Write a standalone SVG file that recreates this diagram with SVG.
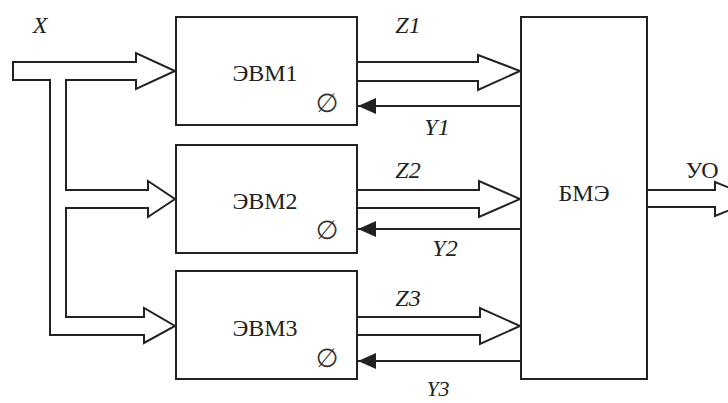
<svg xmlns="http://www.w3.org/2000/svg" width="728" height="403" viewBox="0 0 728 403">
<defs>
<style>
.box{fill:#fff;stroke:#222;stroke-width:2}
.pipe{fill:none;stroke:#222;stroke-width:2;stroke-linejoin:miter}
.sig{fill:none;stroke:#222;stroke-width:2}
.lbl{font-family:"Liberation Serif","Times New Roman",serif;font-size:24px;fill:#222;text-anchor:middle}
.it{font-style:italic}
.zero{font-family:"DejaVu Sans",sans-serif;font-size:26px;fill:#333;text-anchor:middle}
</style>
<marker id="fa" viewBox="0 0 18 16" refX="18" refY="8" markerWidth="18" markerHeight="16" markerUnits="userSpaceOnUse" orient="auto">
<path d="M0,0 L18,8 L0,16 Z" fill="#222"/>
</marker>
</defs>
<rect width="728" height="403" fill="#fff"/>
<g id="connectors">
<path class="pipe" d="M13,62 L136,62 L136,53 L175,71 L136,89 L136,80 L66,80 L66,190 L148,190 L148,181 L175,199 L148,217 L148,208 L66,208 L66,317 L144,317 L144,308 L175,326 L144,343 L144,335 L50,335 L50,80 L13,80 Z"/>
<path class="pipe" d="M357,62 L478,62 L478,55 L520,71 L478,90 L478,81 L357,81"/>
<path class="pipe" d="M357,190 L479,190 L479,181 L520,199 L479,217 L479,208 L357,208"/>
<path class="pipe" d="M357,317 L480,317 L480,308 L520,326 L480,344 L480,335 L357,335"/>
<path class="pipe" d="M647,190 L715,190 L715,182 L757,199 L715,216 L715,207 L647,207"/>
<line class="sig" x1="520" y1="106" x2="358" y2="106" marker-end="url(#fa)"/>
<line class="sig" x1="520" y1="229" x2="358" y2="229" marker-end="url(#fa)"/>
<line class="sig" x1="520" y1="361" x2="358" y2="361" marker-end="url(#fa)"/>
<text class="lbl it" x="40" y="33">X</text>
<text class="lbl it" x="408" y="33">Z1</text>
<text class="lbl it" x="437" y="135">Y1</text>
<text class="lbl it" x="408" y="178">Z2</text>
<text class="lbl it" x="445" y="256">Y2</text>
<text class="lbl it" x="408" y="306">Z3</text>
<text class="lbl it" x="438" y="396" style="font-size:22px">Y3</text>
<text class="lbl" x="702" y="178">УО</text>
</g>
<g id="evm1">
<rect class="box" x="176" y="17" width="181" height="108"/>
<text class="lbl" x="265" y="81">ЭВМ1</text>
<text class="zero" x="327" y="112">∅</text>
</g>
<g id="evm2">
<rect class="box" x="176" y="145" width="181" height="108"/>
<text class="lbl" x="265" y="209">ЭВМ2</text>
<text class="zero" x="327" y="239">∅</text>
</g>
<g id="evm3">
<rect class="box" x="176" y="271" width="181" height="108"/>
<text class="lbl" x="265" y="336">ЭВМ3</text>
<text class="zero" x="327" y="367">∅</text>
</g>
<g id="bme">
<rect class="box" x="521" y="17" width="126" height="362"/>
<text class="lbl" x="584" y="201">БМЭ</text>
</g>
</svg>
